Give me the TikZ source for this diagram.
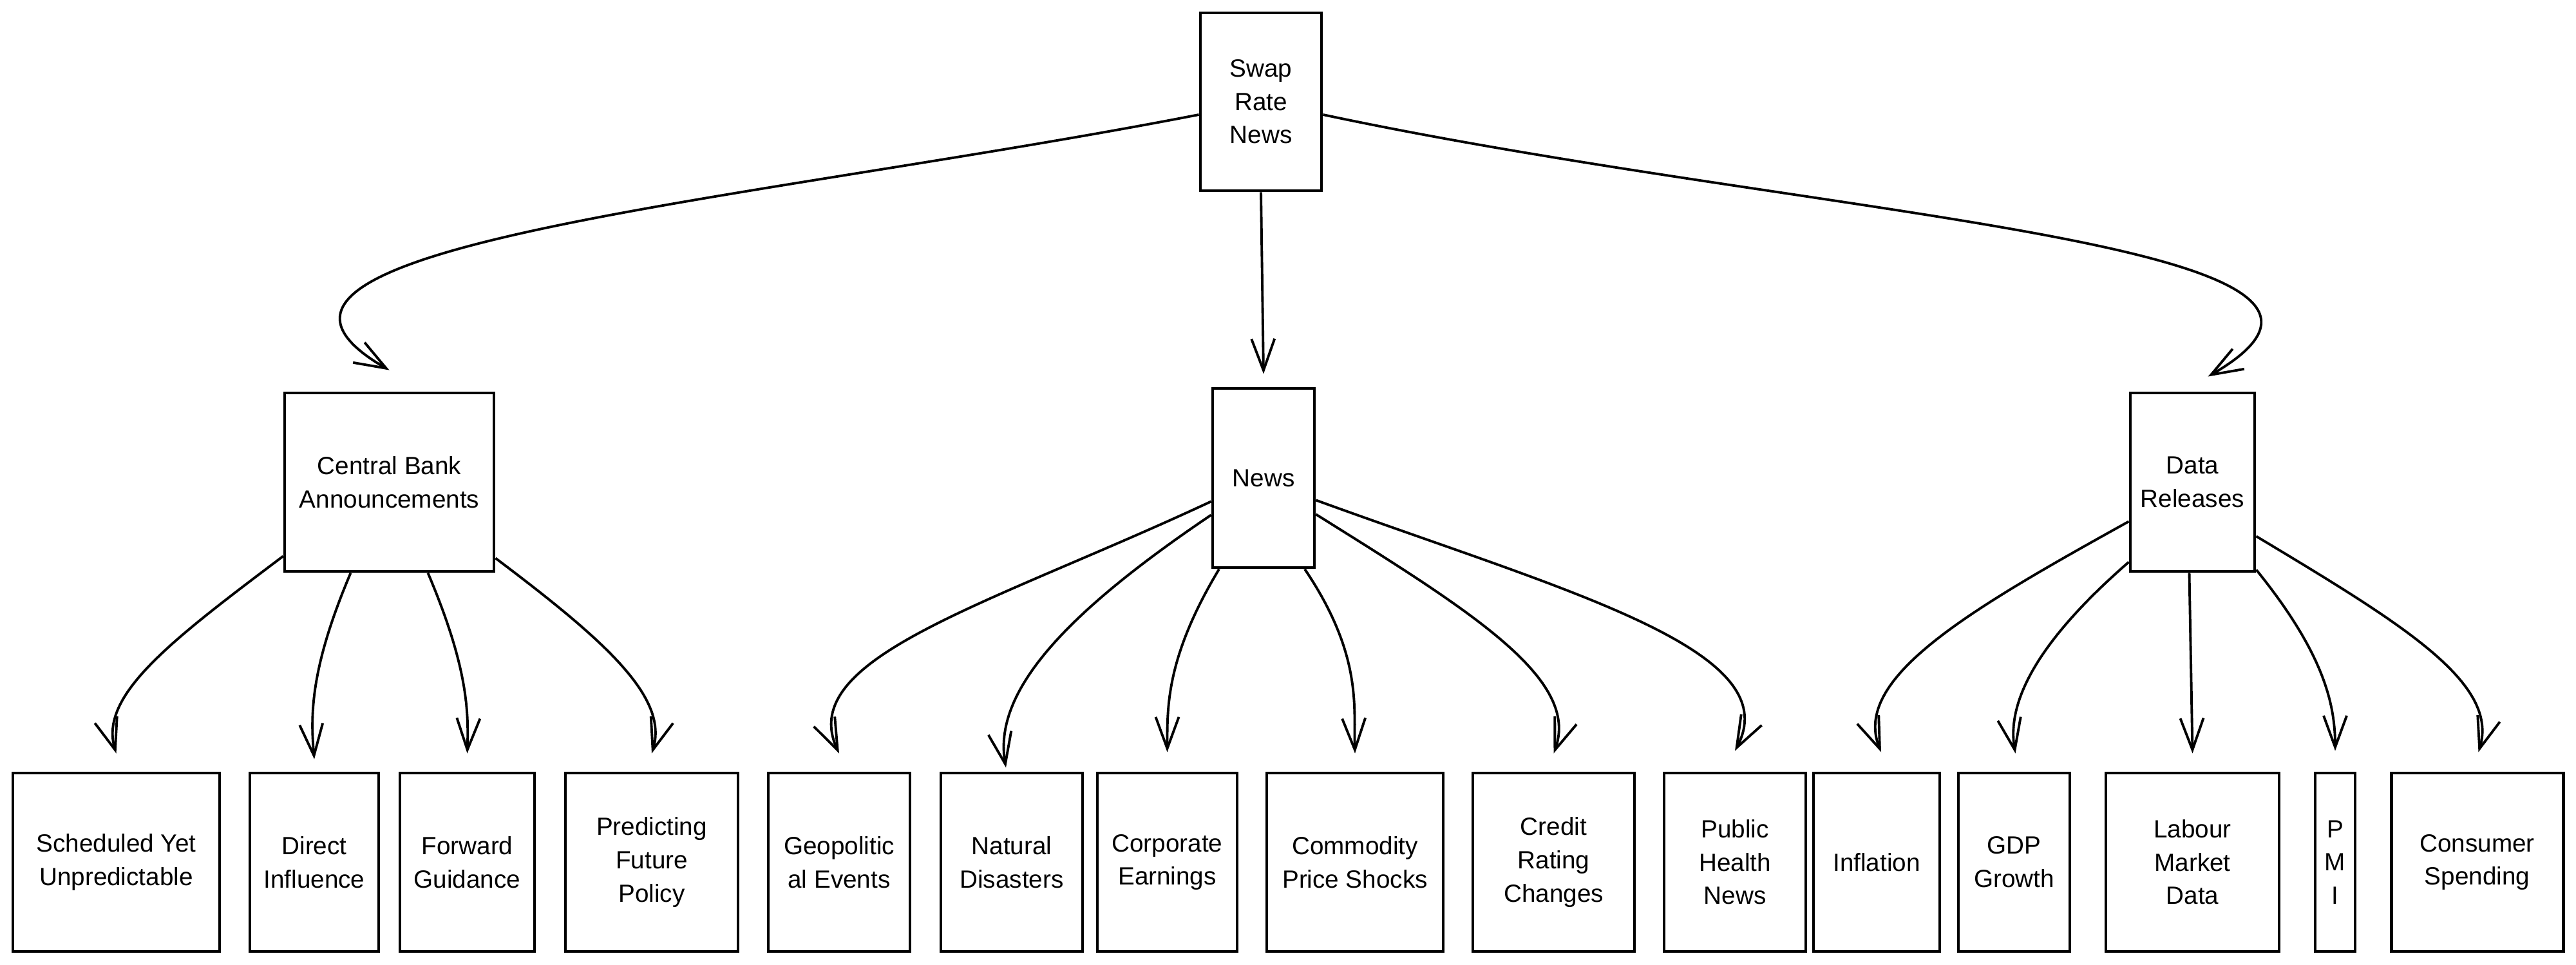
\documentclass[tikz,border=0pt]{standalone}
\usepackage{fontspec}
\setmainfont{Liberation Sans}
\usetikzlibrary{arrows.meta}

\begin{document}
\begin{tikzpicture}[
    box/.style={draw, line width=1.4pt, minimum height=2.77cm, inner sep=1pt, align=center, font=\fontsize{11}{14.7}\selectfont},
    arr/.style={-{Straight Barb[length=4.9mm, width=3.6mm]}, line width=1.1pt, out looseness=1.4, in looseness=0.6}
]
    \useasboundingbox (0,0) rectangle (40,-14.98);

    % Root
    \node[box, minimum width=1.88cm, minimum height=2.76cm] (root) at (19.58,-1.58) {Swap\\Rate\\News};

    % Middle row
    \node[box, minimum width=3.25cm] (cba) at (6.045,-7.485) {Central Bank\\Announcements};
    \node[box, minimum width=1.58cm, minimum height=2.78cm] (news) at (19.62,-7.42) {News};
    \node[box, minimum width=1.93cm] (data) at (34.045,-7.485) {Data\\Releases};

    % Bottom row
    \node[box, minimum width=3.21cm] (sched) at (1.805,-13.385) {Scheduled Yet\\Unpredictable};
    \node[box, minimum width=2.00cm] (direct) at (4.88,-13.385) {Direct\\Influence};
    \node[box, minimum width=2.09cm] (forward) at (7.255,-13.385) {Forward\\Guidance};
    \node[box, minimum width=2.68cm] (predict) at (10.12,-13.385) {Predicting\\Future\\Policy};
    \node[box, minimum width=2.20cm] (geo) at (13.03,-13.385) {Geopolitic\\al Events};
    \node[box, minimum width=2.20cm] (natural) at (15.71,-13.385) {Natural\\Disasters};
    \node[box, minimum width=2.17cm] (corp) at (18.125,-13.385) {Corporate\\Earnings};
    \node[box, minimum width=2.74cm] (commod) at (21.04,-13.385) {Commodity\\Price Shocks};
    \node[box, minimum width=2.51cm] (credit) at (24.125,-13.385) {Credit\\Rating\\Changes};
    \node[box, minimum width=2.20cm] (public) at (26.94,-13.385) {Public\\Health\\News};
    \node[box, minimum width=1.96cm] (infl) at (29.14,-13.385) {Inflation};
    \node[box, minimum width=1.73cm] (gdp) at (31.275,-13.385) {GDP\\Growth};
    \node[box, minimum width=2.69cm] (labour) at (34.045,-13.385) {Labour\\Market\\Data};
    \node[box, minimum width=0.62cm] (pmi) at (36.26,-13.385) {P\\M\\I};
    \node[box, minimum width=2.67cm] (consumer) at (38.465,-13.385) {Consumer\\Spending};

    % Root arrows
    \draw[arr, in looseness=0.75] ([yshift=-2mm]root.west) to[out=191, in=150] ([yshift=3.3mm]cba.north);
    \draw[arr] (root.south) -- ([yshift=2mm]news.north);
    \draw[arr, in looseness=0.75] ([yshift=-2mm]root.east) to[out=-12, in=30] ([xshift=2.4mm, yshift=2.3mm]data.north);

    % Central bank arrows
    \draw[arr] ([yshift=2.6mm]cba.south west) to[out=217, in=107] ([yshift=2.8mm]sched.north);
    \draw[arr] ([xshift=-6mm]cba.south) to[out=247, in=95] ([yshift=1.9mm]direct.north);
    \draw[arr] ([xshift=6mm]cba.south) to[out=293, in=88] ([yshift=2.8mm]forward.north);
    \draw[arr] ([yshift=2.3mm]cba.south east) to[out=-37, in=73] ([yshift=2.8mm]predict.north);

    % News arrows
    \draw[arr] ([yshift=10.5mm]news.south west) to[out=205, in=115] ([yshift=2.8mm]geo.north);
    \draw[arr] ([yshift=8.4mm]news.south west) to[out=214, in=100] ([xshift=-0.9mm, yshift=0.6mm]natural.north);
    \draw[arr] ([xshift=-6.9mm]news.south) to[out=239, in=90] ([yshift=3mm]corp.north);
    \draw[arr] ([xshift=6.4mm]news.south) to[out=-56, in=92] ([yshift=2.8mm]commod.north);
    \draw[arr] ([yshift=8.5mm]news.south east) to[out=-32, in=70] ([yshift=2.8mm]credit.north);
    \draw[arr] ([yshift=10.7mm]news.south east) to[out=-20, in=62] ([yshift=3.2mm]public.north);

    % Data arrows
    \draw[arr] ([yshift=8mm]data.south west) to[out=209, in=112] ([xshift=0.7mm, yshift=3mm]infl.north);
    \draw[arr] ([yshift=1.7mm]data.south west) to[out=221, in=100] ([xshift=0.2mm, yshift=2.8mm]gdp.north);
    \draw[arr] ([xshift=-0.5mm]data.south) -- ([yshift=2.8mm]labour.north);
    \draw[arr] ([yshift=0.5mm]data.south east) to[out=-51, in=90] ([yshift=3.2mm]pmi.north);
    \draw[arr] ([yshift=5.7mm]data.south east) to[out=-31, in=73] ([xshift=0.2mm, yshift=3mm]consumer.north);
\end{tikzpicture}
\end{document}
